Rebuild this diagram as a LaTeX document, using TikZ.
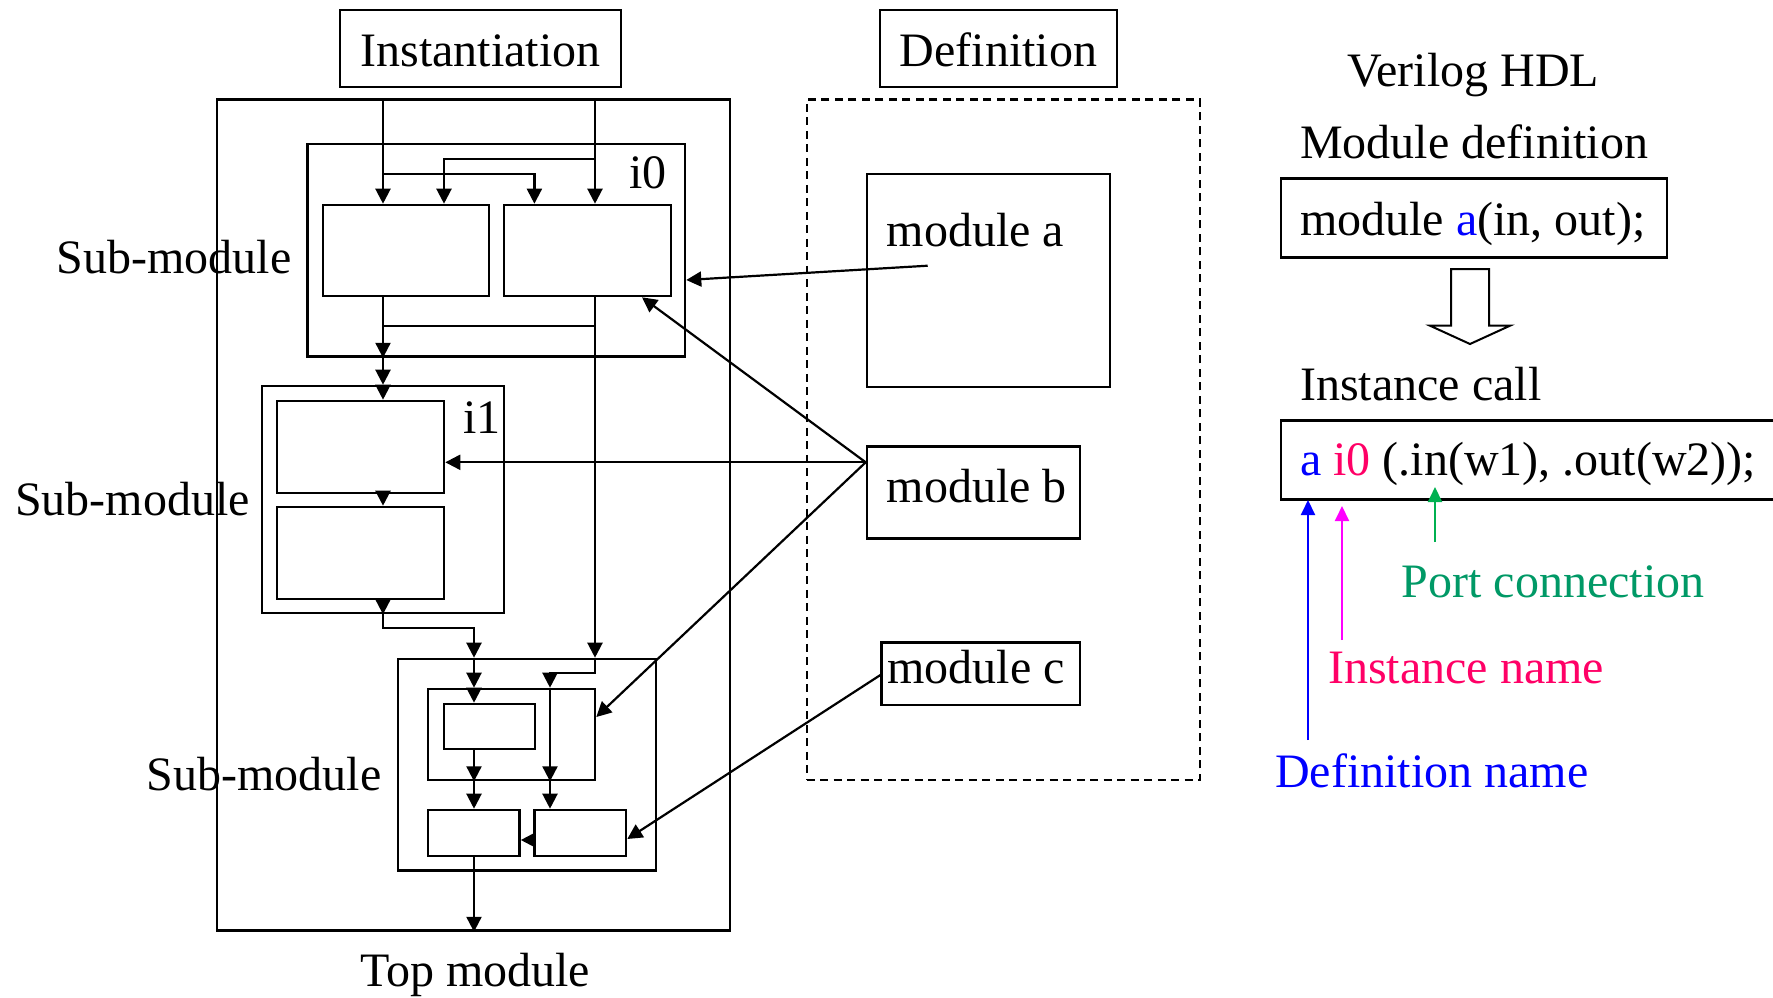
\documentclass[tikz,border=0pt]{standalone}
\usepackage{fontspec}
\setmainfont{Liberation Serif}
\usetikzlibrary{arrows.meta,fit}
\definecolor{defblue}{RGB}{0,0,255}
\definecolor{instpink}{RGB}{255,0,102}
\definecolor{arrmag}{RGB}{255,0,255}
\definecolor{portgreen}{RGB}{0,153,102}
\definecolor{arrgreen}{RGB}{0,176,80}
\begin{document}
\begin{tikzpicture}[x=1pt,y=-1pt,
  box/.style={draw, line width=2.6pt, inner sep=0pt},
  dbox/.style={draw, line width=2.4pt, dash pattern=on 8pt off 5.5pt, inner sep=0pt},
  ln/.style={line width=2.2pt},
  arr/.style={line width=2.2pt, -{Triangle[length=15pt,width=15pt]}},
  carr/.style={line width=2pt, -{Triangle[length=15pt,width=14pt]}},
  lbl/.style={font=\fontsize{48pt}{58pt}\selectfont, inner sep=0pt, anchor=base west},
  hollow/.style={line width=2pt, fill=white}
]
\useasboundingbox (0,0) rectangle (1773,997);
\fill[white] (0,0) rectangle (1773,997);

% ---------- boxes ----------
\node[box, fit={(340,10) (621,87)}] (inst) {};
\node[box, fit={(880,10) (1117,87)}] (def) {};
\node[box, fit={(217,99.5) (730,930.5)}] (topm) {};
\node[dbox, fit={(806.7,99.5) (1200,780)}] (defarea) {};
\node[box, fit={(307.5,144) (685,356.5)}] (i0) {};
\node[box, fit={(323,205) (489,296)}] (i0L) {};
\node[box, fit={(504,205) (671,296)}] (i0R) {};
\node[box, fit={(262,386) (504,613)}] (i1) {};
\node[box, fit={(277,401) (444,493)}] (i1A) {};
\node[box, fit={(277,507) (444,599)}] (i1B) {};
\node[box, fit={(398,659) (656,870.5)}] (sm3) {};
\node[box, fit={(428,689) (595,780)}] (sm3C) {};
\node[box, fit={(444,704) (535,749)}] (sm3S) {};
\node[box, fit={(428,810) (519.5,856)}] (sm3L) {};
\node[box, fit={(534.5,810) (626,856)}] (sm3R) {};
\node[box, fit={(867,174) (1110,387)}] (ma) {};
\node[box, fit={(867,446.7) (1080,538.3)}] (mb) {};
\node[box, fit={(881.7,642.7) (1080,705)}] (mc) {};
\node[box, fit={(1281,178.5) (1667,257.5)}] (defbox) {};
\node[box, fit={(1281,420.7) (1800,499.3)}] (callbox) {};

% ---------- texts ----------
\node[lbl, anchor=base] (instT) at (480.5,66) {Instantiation};
\node[lbl, anchor=base] (defT) at (998.5,66) {Definition};
\node[lbl] (sub1) at (56.7,273.3) {Sub-module};
\node[lbl] (sub2) at (15,515) {Sub-module};
\node[lbl] (sub3) at (146.7,790) {Sub-module};
\node[lbl] (topT) at (360,986.7) {Top module};
\node[lbl] (i0T) at (629,188) {i0};
\node[lbl] (i1T) at (463,433) {i1};
\node[lbl] (maT) at (886.7,246) {module a};
\node[lbl] (mbT) at (886.7,502.7) {module b};
\node[lbl] (mcT) at (887.3,683.3) {module c};
\node[lbl] (verT) at (1347,86) {Verilog HDL};
\node[lbl] (mdT) at (1300,158) {Module definition};
\node[lbl] (defcode) at (1300,235) {module {\color{defblue}a}(in, out);};
\node[lbl] (icT) at (1300,400) {Instance call};
\node[lbl] (callcode) at (1300,475) {{\color{defblue}a} {\color{instpink}i0} (.in(w1), .out(w2));};
\node[lbl, text=portgreen] (portT) at (1401.7,597) {Port connection};
\node[lbl, text=instpink] (instnT) at (1328,683) {Instance name};
\node[lbl, text=defblue] (defnT) at (1275,787) {Definition name};

% ---------- helper coordinates ----------
\coordinate (xA) at (383,0);
\coordinate (xB) at (595,0);
\coordinate (xC) at (534.4,0);
\coordinate (xD) at (444,0);
\coordinate (xM) at (474,0);
\coordinate (xR) at (550,0);
\coordinate (xP) at (642,0);
\coordinate (brA) at (383,174);
\coordinate (brB) at (595,159);
\coordinate (jn) at (383,325.7);
\coordinate (jg1) at (383,628);
\coordinate (jg2) at (595,673);
\coordinate (yLR) at (0,840);
\coordinate (yA) at (0,280);
\coordinate (yB) at (0,462.3);
\coordinate (yC) at (0,717);
\coordinate (yR) at (0,839);
\coordinate (yCo) at (0,675);
\coordinate (aOut) at (927.7,265.7);

% ---------- instantiation connectors ----------
\draw[arr] (xA |- topm.north) -- (xA |- i0L.north);
\draw[arr] (xB |- topm.north) -- (xB |- i0R.north);
\draw[arr] (brA) -| (xC |- i0R.north);
\draw[arr] (brB) -| (xD |- i0L.north);
\draw[arr] (xA |- i0L.south) -- (xA |- i0.south);
\draw[arr] (xA |- i0.south) -- (xA |- i1.north);
\draw[arr] (xA |- i1.north) -- (xA |- i1A.north);
\draw[ln] (xB |- i0R.south) |- (jn);
\draw[arr] (xB |- i0R.south) -- (xB |- sm3.north);
\draw[arr] (xA |- i1A.south) -- (xA |- i1B.north);
\draw[arr] (xA |- i1B.south) -- (xA |- i1.south);
\draw[arr] (xA |- i1.south) -- (jg1) -| (xM |- sm3.north);
\draw[arr] (xM |- sm3.north) -- (xM |- sm3C.north);
\draw[arr] (xM |- sm3C.north) -- (xM |- sm3S.north);
\draw[arr] (xM |- sm3S.south) -- (xM |- sm3C.south);
\draw[arr] (xM |- sm3C.south) -- (xM |- sm3L.north);
\draw[arr] (xM |- sm3L.south) -- (xM |- topm.south);
\draw[arr] (xB |- sm3.north) -- (jg2) -| (xR |- sm3C.north);
\draw[arr] (xR |- sm3C.north) -- (xR |- sm3C.south);
\draw[arr] (xR |- sm3C.south) -- (xR |- sm3R.north);
\draw[arr] (sm3R.west |- yLR) -- (sm3L.east |- yLR);

% ---------- definition connectors ----------
\coordinate (bOut) at (mb.west |- yB);
\coordinate (cOut) at (mc.west |- yCo);
\draw[arr] (aOut) -- (i0.east |- yA);
\draw[arr] (bOut) -- (xP |- i0R.south);
\draw[arr] (bOut) -- (i1A.east |- bOut);
\draw[arr] (bOut) -- (sm3C.east |- yC);
\draw[arr] (cOut) -- (sm3R.east |- yR);

% ---------- hollow arrow ----------
\draw[hollow] (1451,269) -- (1489,269) -- (1489,325.7) -- (1510,325.7) -- (1470,344)
  -- (1430,325.7) -- (1451,325.7) -- cycle;

% ---------- coloured pointers ----------
\coordinate (blS) at (1308,740);
\coordinate (blE) at (1308,500);
\coordinate (mgS) at (1342,640);
\coordinate (mgE) at (1342,506);
\coordinate (grS) at (1435,542);
\coordinate (grE) at (1435,487);
\draw[carr, color=defblue] (blS) -- (blE);
\draw[carr, color=arrmag] (mgS) -- (mgE);
\draw[carr, color=arrgreen] (grS) -- (grE);
\end{tikzpicture}
\end{document}
